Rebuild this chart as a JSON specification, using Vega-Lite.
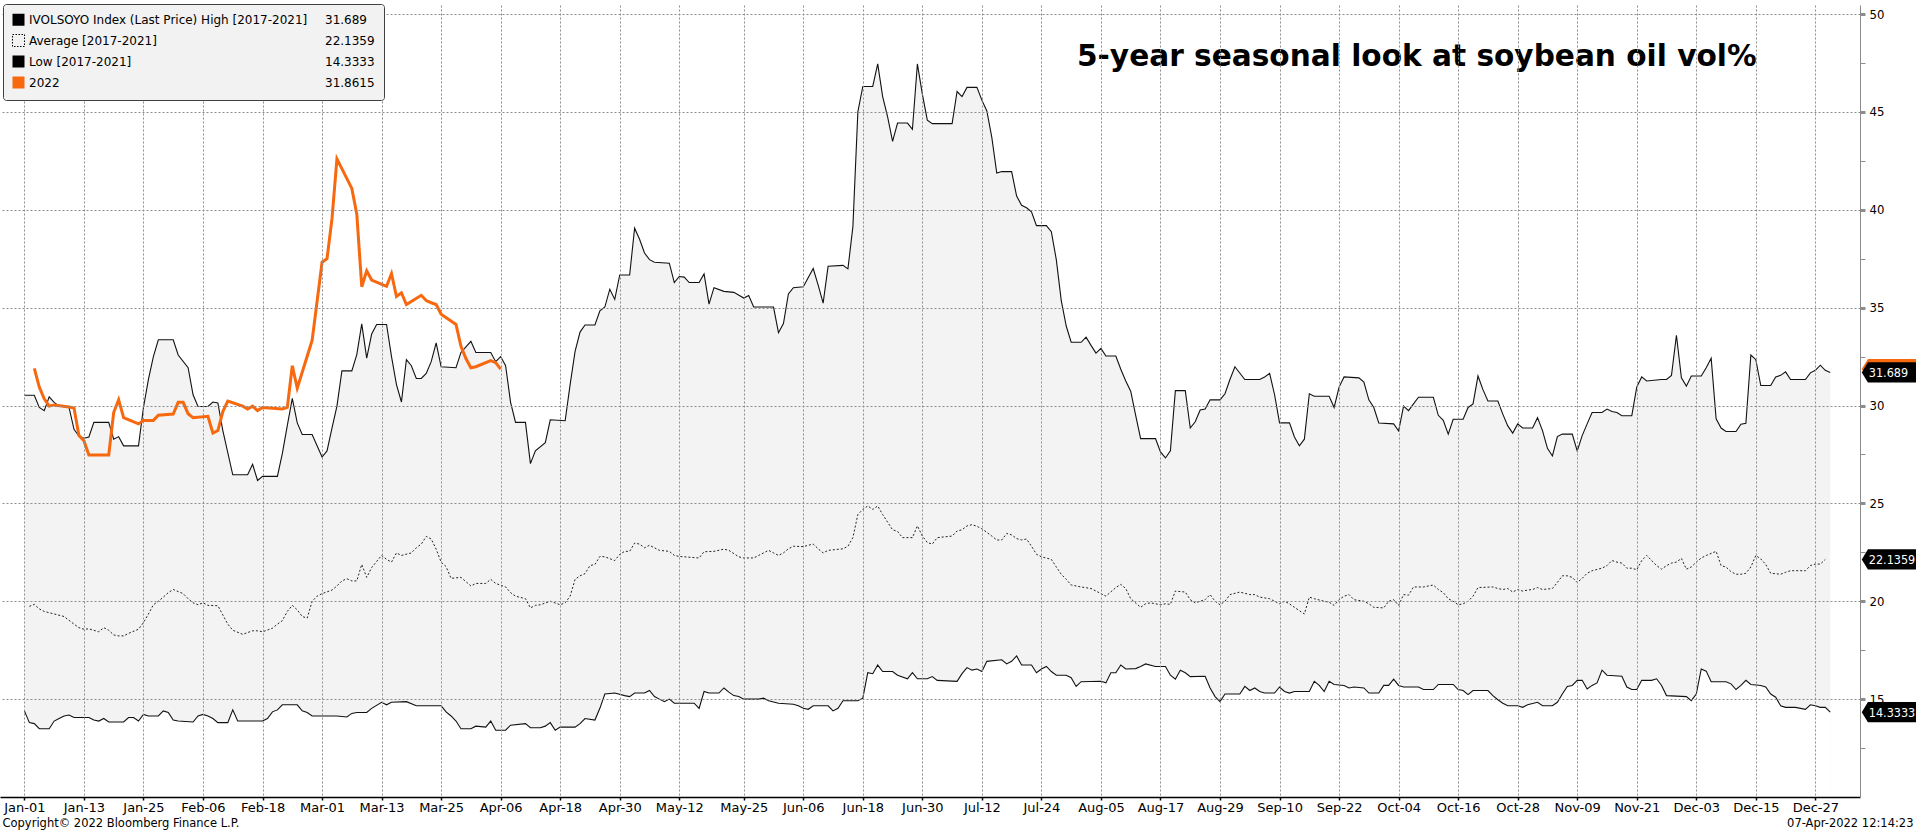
{
  "$schema": "https://vega.github.io/schema/vega-lite/v6.json",
  "width": 1860,
  "height": 792,
  "autosize": {"type": "none"},
  "padding": {"left": 0, "top": 5, "right": 56, "bottom": 36},
  "background": "#ffffff",
  "config": {"view": {"stroke": null}},
  "title": {"text": "5-year seasonal look at soybean oil vol%", "anchor": "start", "frame": "group", "orient": "top", "offset": 0, "dx": 1077, "dy": 92, "baseline": "alphabetic", "font": "DejaVu Sans", "fontSize": 29.6, "fontWeight": "bold", "color": "#000000"},
  "datasets": {
    "high": [
      {"d":"2020-01-01","v":30.52},{"d":"2020-01-03","v":30.52},{"d":"2020-01-04","v":29.9},{"d":"2020-01-05","v":29.74},{"d":"2020-01-06","v":30.44},{"d":"2020-01-07","v":30.16},{"d":"2020-01-08","v":29.97},{"d":"2020-01-10","v":29.9},{"d":"2020-01-11","v":28.78},{"d":"2020-01-12","v":28.44},{"d":"2020-01-13","v":28.33},{"d":"2020-01-14","v":28.39},{"d":"2020-01-15","v":29.14},{"d":"2020-01-18","v":29.14},{"d":"2020-01-19","v":28.28},{"d":"2020-01-20","v":28.41},{"d":"2020-01-21","v":27.94},{"d":"2020-01-24","v":27.94},{"d":"2020-01-25","v":29.9},{"d":"2020-01-26","v":31.33},{"d":"2020-01-27","v":32.5},{"d":"2020-01-28","v":33.36},{"d":"2020-01-31","v":33.36},
      {"d":"2020-02-01","v":32.58},{"d":"2020-02-03","v":31.93},{"d":"2020-02-04","v":30.55},{"d":"2020-02-05","v":29.95},{"d":"2020-02-07","v":29.95},{"d":"2020-02-08","v":30.18},{"d":"2020-02-09","v":30.13},{"d":"2020-02-10","v":28.72},{"d":"2020-02-12","v":26.46},{"d":"2020-02-15","v":26.46},{"d":"2020-02-16","v":27.0},{"d":"2020-02-17","v":26.17},{"d":"2020-02-18","v":26.38},{"d":"2020-02-21","v":26.38},{"d":"2020-02-22","v":27.55},{"d":"2020-02-23","v":28.98},{"d":"2020-02-24","v":30.36},{"d":"2020-02-25","v":29.11},{"d":"2020-02-26","v":28.52},{"d":"2020-02-28","v":28.52},{"d":"2020-02-29","v":27.94},
      {"d":"2020-03-01","v":27.37},{"d":"2020-03-02","v":27.68},{"d":"2020-03-03","v":28.85},{"d":"2020-03-04","v":29.97},{"d":"2020-03-05","v":31.77},{"d":"2020-03-07","v":31.77},{"d":"2020-03-08","v":32.6},{"d":"2020-03-09","v":34.17},{"d":"2020-03-10","v":32.42},{"d":"2020-03-11","v":33.65},{"d":"2020-03-12","v":34.14},{"d":"2020-03-14","v":34.14},{"d":"2020-03-15","v":32.5},{"d":"2020-03-16","v":31.07},{"d":"2020-03-17","v":30.18},{"d":"2020-03-18","v":32.34},{"d":"2020-03-19","v":32.03},{"d":"2020-03-20","v":31.38},{"d":"2020-03-21","v":31.38},{"d":"2020-03-22","v":31.64},{"d":"2020-03-23","v":32.24},{"d":"2020-03-24","v":33.2},{"d":"2020-03-25","v":31.98},{"d":"2020-03-28","v":31.93},{"d":"2020-03-29","v":32.71},{"d":"2020-03-31","v":33.28},
      {"d":"2020-04-01","v":32.71},{"d":"2020-04-04","v":32.71},{"d":"2020-04-05","v":32.24},{"d":"2020-04-06","v":32.5},{"d":"2020-04-07","v":32.03},{"d":"2020-04-08","v":30.16},{"d":"2020-04-09","v":29.14},{"d":"2020-04-11","v":29.14},{"d":"2020-04-12","v":27.03},{"d":"2020-04-13","v":27.68},{"d":"2020-04-15","v":28.1},{"d":"2020-04-16","v":29.27},{"d":"2020-04-19","v":29.22},{"d":"2020-04-20","v":31.07},{"d":"2020-04-21","v":32.76},{"d":"2020-04-22","v":33.75},{"d":"2020-04-23","v":34.11},{"d":"2020-04-25","v":34.11},{"d":"2020-04-26","v":34.84},{"d":"2020-04-27","v":35.03},{"d":"2020-04-28","v":35.94},{"d":"2020-04-29","v":35.42},{"d":"2020-04-30","v":36.67},
      {"d":"2020-05-02","v":36.67},{"d":"2020-05-03","v":39.06},{"d":"2020-05-04","v":38.49},{"d":"2020-05-05","v":37.79},{"d":"2020-05-06","v":37.45},{"d":"2020-05-07","v":37.32},{"d":"2020-05-10","v":37.27},{"d":"2020-05-11","v":36.28},{"d":"2020-05-12","v":36.59},{"d":"2020-05-13","v":36.56},{"d":"2020-05-14","v":36.28},{"d":"2020-05-16","v":36.28},{"d":"2020-05-17","v":36.72},{"d":"2020-05-18","v":35.18},{"d":"2020-05-19","v":36.02},{"d":"2020-05-21","v":35.83},{"d":"2020-05-23","v":35.78},{"d":"2020-05-25","v":35.49},{"d":"2020-05-26","v":35.62},{"d":"2020-05-27","v":35.03},{"d":"2020-05-31","v":35.03},
      {"d":"2020-06-01","v":33.72},{"d":"2020-06-02","v":34.19},{"d":"2020-06-03","v":35.7},{"d":"2020-06-04","v":36.02},{"d":"2020-06-06","v":36.07},{"d":"2020-06-08","v":37.0},{"d":"2020-06-09","v":36.15},{"d":"2020-06-10","v":35.23},{"d":"2020-06-11","v":37.11},{"d":"2020-06-14","v":37.16},{"d":"2020-06-15","v":36.98},{"d":"2020-06-16","v":39.14},{"d":"2020-06-17","v":45.0},{"d":"2020-06-18","v":46.3},{"d":"2020-06-20","v":46.3},{"d":"2020-06-21","v":47.45},{"d":"2020-06-22","v":45.78},{"d":"2020-06-23","v":44.74},{"d":"2020-06-24","v":43.49},{"d":"2020-06-25","v":44.43},{"d":"2020-06-27","v":44.43},{"d":"2020-06-28","v":44.11},{"d":"2020-06-29","v":47.45},{"d":"2020-06-30","v":45.91},
      {"d":"2020-07-01","v":44.58},{"d":"2020-07-02","v":44.4},{"d":"2020-07-06","v":44.4},{"d":"2020-07-07","v":46.04},{"d":"2020-07-08","v":45.78},{"d":"2020-07-09","v":46.25},{"d":"2020-07-11","v":46.25},{"d":"2020-07-12","v":45.6},{"d":"2020-07-13","v":45.05},{"d":"2020-07-14","v":43.7},{"d":"2020-07-15","v":41.88},{"d":"2020-07-16","v":41.95},{"d":"2020-07-18","v":41.95},{"d":"2020-07-19","v":40.7},{"d":"2020-07-20","v":40.23},{"d":"2020-07-21","v":40.1},{"d":"2020-07-22","v":39.9},{"d":"2020-07-23","v":39.19},{"d":"2020-07-25","v":39.19},{"d":"2020-07-26","v":38.88},{"d":"2020-07-27","v":37.45},{"d":"2020-07-28","v":35.36},{"d":"2020-07-29","v":34.06},{"d":"2020-07-30","v":33.23},
      {"d":"2020-08-01","v":33.23},{"d":"2020-08-02","v":33.49},{"d":"2020-08-03","v":33.07},{"d":"2020-08-04","v":32.68},{"d":"2020-08-05","v":32.92},{"d":"2020-08-06","v":32.53},{"d":"2020-08-08","v":32.53},{"d":"2020-08-09","v":31.85},{"d":"2020-08-10","v":31.25},{"d":"2020-08-11","v":30.73},{"d":"2020-08-12","v":29.5},{"d":"2020-08-13","v":28.31},{"d":"2020-08-16","v":28.31},{"d":"2020-08-17","v":27.63},{"d":"2020-08-18","v":27.32},{"d":"2020-08-19","v":27.68},{"d":"2020-08-20","v":30.76},{"d":"2020-08-22","v":30.76},{"d":"2020-08-23","v":28.85},{"d":"2020-08-24","v":29.17},{"d":"2020-08-25","v":29.77},{"d":"2020-08-26","v":29.82},{"d":"2020-08-27","v":30.29},{"d":"2020-08-29","v":30.29},{"d":"2020-08-30","v":30.6},{"d":"2020-08-31","v":31.33},
      {"d":"2020-09-01","v":31.98},{"d":"2020-09-03","v":31.33},{"d":"2020-09-06","v":31.33},{"d":"2020-09-07","v":31.46},{"d":"2020-09-08","v":31.64},{"d":"2020-09-09","v":30.55},{"d":"2020-09-10","v":29.11},{"d":"2020-09-12","v":29.11},{"d":"2020-09-13","v":28.39},{"d":"2020-09-14","v":27.94},{"d":"2020-09-15","v":28.28},{"d":"2020-09-16","v":30.6},{"d":"2020-09-17","v":30.47},{"d":"2020-09-20","v":30.47},{"d":"2020-09-21","v":29.9},{"d":"2020-09-22","v":30.94},{"d":"2020-09-23","v":31.46},{"d":"2020-09-26","v":31.41},{"d":"2020-09-27","v":31.2},{"d":"2020-09-28","v":30.29},{"d":"2020-09-29","v":29.9},{"d":"2020-09-30","v":29.11},
      {"d":"2020-10-03","v":29.06},{"d":"2020-10-04","v":28.7},{"d":"2020-10-05","v":29.97},{"d":"2020-10-06","v":29.74},{"d":"2020-10-07","v":30.08},{"d":"2020-10-08","v":30.42},{"d":"2020-10-11","v":30.42},{"d":"2020-10-12","v":29.5},{"d":"2020-10-13","v":29.24},{"d":"2020-10-14","v":28.54},{"d":"2020-10-15","v":29.3},{"d":"2020-10-17","v":29.3},{"d":"2020-10-18","v":29.9},{"d":"2020-10-19","v":30.08},{"d":"2020-10-20","v":31.51},{"d":"2020-10-21","v":30.81},{"d":"2020-10-22","v":30.23},{"d":"2020-10-24","v":30.23},{"d":"2020-10-25","v":29.56},{"d":"2020-10-26","v":28.96},{"d":"2020-10-27","v":28.59},{"d":"2020-10-28","v":29.06},{"d":"2020-10-29","v":28.85},{"d":"2020-10-31","v":28.85},
      {"d":"2020-11-01","v":29.38},{"d":"2020-11-02","v":28.72},{"d":"2020-11-03","v":27.81},{"d":"2020-11-04","v":27.42},{"d":"2020-11-05","v":28.41},{"d":"2020-11-06","v":28.54},{"d":"2020-11-08","v":28.54},{"d":"2020-11-09","v":27.68},{"d":"2020-11-10","v":28.46},{"d":"2020-11-11","v":29.06},{"d":"2020-11-12","v":29.64},{"d":"2020-11-14","v":29.64},{"d":"2020-11-15","v":29.82},{"d":"2020-11-16","v":29.69},{"d":"2020-11-17","v":29.64},{"d":"2020-11-18","v":29.48},{"d":"2020-11-20","v":29.48},{"d":"2020-11-21","v":30.94},{"d":"2020-11-22","v":31.46},{"d":"2020-11-23","v":31.25},{"d":"2020-11-26","v":31.33},{"d":"2020-11-27","v":31.33},{"d":"2020-11-28","v":31.54},{"d":"2020-11-29","v":33.59},{"d":"2020-11-30","v":31.41},
      {"d":"2020-12-01","v":30.99},{"d":"2020-12-02","v":31.51},{"d":"2020-12-04","v":31.51},{"d":"2020-12-05","v":31.93},{"d":"2020-12-06","v":32.42},{"d":"2020-12-07","v":29.32},{"d":"2020-12-08","v":28.85},{"d":"2020-12-09","v":28.67},{"d":"2020-12-11","v":28.67},{"d":"2020-12-12","v":29.04},{"d":"2020-12-13","v":29.09},{"d":"2020-12-14","v":32.58},{"d":"2020-12-15","v":32.34},{"d":"2020-12-16","v":31.02},{"d":"2020-12-18","v":31.02},{"d":"2020-12-19","v":31.46},{"d":"2020-12-20","v":31.54},{"d":"2020-12-21","v":31.72},{"d":"2020-12-22","v":31.33},{"d":"2020-12-25","v":31.33},{"d":"2020-12-26","v":31.67},{"d":"2020-12-27","v":31.8},{"d":"2020-12-28","v":32.06},{"d":"2020-12-29","v":31.8},{"d":"2020-12-30","v":31.689}
    ],
    "avg": [
      {"d":"2020-01-02","v":19.74},{"d":"2020-01-03","v":19.84},{"d":"2020-01-04","v":19.61},{"d":"2020-01-05","v":19.48},{"d":"2020-01-07","v":19.35},{"d":"2020-01-09","v":19.22},{"d":"2020-01-11","v":18.83},{"d":"2020-01-12","v":18.65},{"d":"2020-01-13","v":18.57},{"d":"2020-01-14","v":18.59},{"d":"2020-01-16","v":18.44},{"d":"2020-01-17","v":18.65},{"d":"2020-01-18","v":18.52},{"d":"2020-01-19","v":18.28},{"d":"2020-01-20","v":18.23},{"d":"2020-01-21","v":18.23},{"d":"2020-01-22","v":18.36},{"d":"2020-01-24","v":18.57},{"d":"2020-01-25","v":18.91},{"d":"2020-01-26","v":19.35},{"d":"2020-01-27","v":19.82},{"d":"2020-01-28","v":20.0},{"d":"2020-01-29","v":20.21},{"d":"2020-01-30","v":20.44},{"d":"2020-01-31","v":20.6},
      {"d":"2020-02-02","v":20.39},{"d":"2020-02-03","v":20.13},{"d":"2020-02-04","v":19.92},{"d":"2020-02-05","v":19.82},{"d":"2020-02-06","v":19.92},{"d":"2020-02-07","v":19.79},{"d":"2020-02-09","v":19.77},{"d":"2020-02-10","v":19.3},{"d":"2020-02-11","v":18.83},{"d":"2020-02-12","v":18.52},{"d":"2020-02-14","v":18.31},{"d":"2020-02-16","v":18.49},{"d":"2020-02-17","v":18.49},{"d":"2020-02-18","v":18.44},{"d":"2020-02-20","v":18.62},{"d":"2020-02-21","v":18.83},{"d":"2020-02-22","v":19.01},{"d":"2020-02-23","v":19.48},{"d":"2020-02-24","v":19.79},{"d":"2020-02-25","v":19.56},{"d":"2020-02-26","v":19.22},{"d":"2020-02-27","v":19.14},{"d":"2020-02-28","v":20.0},{"d":"2020-02-29","v":20.26},
      {"d":"2020-03-01","v":20.39},{"d":"2020-03-03","v":20.57},{"d":"2020-03-04","v":20.78},{"d":"2020-03-05","v":21.04},{"d":"2020-03-06","v":21.15},{"d":"2020-03-07","v":21.04},{"d":"2020-03-08","v":21.04},{"d":"2020-03-09","v":21.88},{"d":"2020-03-10","v":21.22},{"d":"2020-03-11","v":21.72},{"d":"2020-03-13","v":22.34},{"d":"2020-03-14","v":22.14},{"d":"2020-03-15","v":22.0},{"d":"2020-03-16","v":22.47},{"d":"2020-03-17","v":22.34},{"d":"2020-03-19","v":22.47},{"d":"2020-03-20","v":22.73},{"d":"2020-03-21","v":22.92},{"d":"2020-03-22","v":23.31},{"d":"2020-03-23","v":23.18},{"d":"2020-03-24","v":22.66},{"d":"2020-03-25","v":22.0},{"d":"2020-03-26","v":21.77},{"d":"2020-03-27","v":21.17},{"d":"2020-03-29","v":21.22},{"d":"2020-03-31","v":20.78},
      {"d":"2020-04-01","v":20.91},{"d":"2020-04-03","v":20.91},{"d":"2020-04-04","v":21.12},{"d":"2020-04-05","v":20.91},{"d":"2020-04-07","v":20.73},{"d":"2020-04-08","v":20.44},{"d":"2020-04-09","v":20.26},{"d":"2020-04-11","v":20.13},{"d":"2020-04-12","v":19.66},{"d":"2020-04-13","v":19.79},{"d":"2020-04-14","v":19.82},{"d":"2020-04-16","v":20.0},{"d":"2020-04-18","v":19.82},{"d":"2020-04-19","v":19.92},{"d":"2020-04-20","v":20.26},{"d":"2020-04-21","v":21.12},{"d":"2020-04-22","v":21.3},{"d":"2020-04-23","v":21.41},{"d":"2020-04-24","v":21.82},{"d":"2020-04-25","v":21.88},{"d":"2020-04-26","v":22.29},{"d":"2020-04-27","v":22.27},{"d":"2020-04-29","v":22.08},{"d":"2020-04-30","v":22.4},
      {"d":"2020-05-01","v":22.55},{"d":"2020-05-02","v":22.55},{"d":"2020-05-03","v":22.97},{"d":"2020-05-04","v":22.92},{"d":"2020-05-05","v":22.73},{"d":"2020-05-06","v":22.86},{"d":"2020-05-07","v":22.73},{"d":"2020-05-08","v":22.6},{"d":"2020-05-10","v":22.55},{"d":"2020-05-11","v":22.34},{"d":"2020-05-12","v":22.29},{"d":"2020-05-16","v":22.21},{"d":"2020-05-17","v":22.53},{"d":"2020-05-19","v":22.55},{"d":"2020-05-21","v":22.66},{"d":"2020-05-22","v":22.6},{"d":"2020-05-24","v":22.27},{"d":"2020-05-25","v":22.21},{"d":"2020-05-27","v":22.21},{"d":"2020-05-28","v":22.34},{"d":"2020-05-30","v":22.6},{"d":"2020-05-31","v":22.47},
      {"d":"2020-06-01","v":22.34},{"d":"2020-06-02","v":22.47},{"d":"2020-06-03","v":22.68},{"d":"2020-06-04","v":22.81},{"d":"2020-06-06","v":22.79},{"d":"2020-06-07","v":22.86},{"d":"2020-06-08","v":22.92},{"d":"2020-06-09","v":22.68},{"d":"2020-06-10","v":22.47},{"d":"2020-06-11","v":22.6},{"d":"2020-06-14","v":22.68},{"d":"2020-06-15","v":22.81},{"d":"2020-06-16","v":23.25},{"d":"2020-06-17","v":24.43},{"d":"2020-06-18","v":24.69},{"d":"2020-06-19","v":24.87},{"d":"2020-06-20","v":24.69},{"d":"2020-06-21","v":24.87},{"d":"2020-06-22","v":24.43},{"d":"2020-06-23","v":24.04},{"d":"2020-06-24","v":23.65},{"d":"2020-06-25","v":23.57},{"d":"2020-06-26","v":23.25},{"d":"2020-06-28","v":23.25},{"d":"2020-06-29","v":23.85},{"d":"2020-06-30","v":23.33},
      {"d":"2020-07-01","v":23.0},{"d":"2020-07-02","v":22.92},{"d":"2020-07-03","v":23.25},{"d":"2020-07-06","v":23.33},{"d":"2020-07-07","v":23.59},{"d":"2020-07-08","v":23.65},{"d":"2020-07-09","v":23.85},{"d":"2020-07-10","v":23.91},{"d":"2020-07-11","v":23.83},{"d":"2020-07-12","v":23.7},{"d":"2020-07-13","v":23.52},{"d":"2020-07-14","v":23.33},{"d":"2020-07-15","v":23.13},{"d":"2020-07-16","v":23.13},{"d":"2020-07-17","v":23.46},{"d":"2020-07-18","v":23.39},{"d":"2020-07-19","v":23.2},{"d":"2020-07-20","v":23.13},{"d":"2020-07-21","v":23.18},{"d":"2020-07-22","v":22.81},{"d":"2020-07-23","v":22.4},{"d":"2020-07-24","v":22.27},{"d":"2020-07-26","v":22.14},{"d":"2020-07-27","v":21.75},{"d":"2020-07-28","v":21.38},{"d":"2020-07-29","v":21.12},{"d":"2020-07-30","v":20.83},
      {"d":"2020-08-01","v":20.73},{"d":"2020-08-03","v":20.65},{"d":"2020-08-05","v":20.39},{"d":"2020-08-06","v":20.26},{"d":"2020-08-08","v":20.7},{"d":"2020-08-09","v":20.86},{"d":"2020-08-10","v":20.65},{"d":"2020-08-11","v":20.13},{"d":"2020-08-13","v":19.69},{"d":"2020-08-14","v":19.87},{"d":"2020-08-15","v":19.92},{"d":"2020-08-17","v":19.82},{"d":"2020-08-18","v":19.87},{"d":"2020-08-19","v":19.84},{"d":"2020-08-20","v":20.52},{"d":"2020-08-22","v":20.47},{"d":"2020-08-23","v":20.08},{"d":"2020-08-24","v":19.92},{"d":"2020-08-26","v":20.08},{"d":"2020-08-27","v":20.34},{"d":"2020-08-28","v":20.0},{"d":"2020-08-29","v":19.82},{"d":"2020-08-30","v":20.0},{"d":"2020-08-31","v":20.34},
      {"d":"2020-09-02","v":20.47},{"d":"2020-09-04","v":20.34},{"d":"2020-09-05","v":20.34},{"d":"2020-09-06","v":20.21},{"d":"2020-09-08","v":20.13},{"d":"2020-09-10","v":19.87},{"d":"2020-09-11","v":20.0},{"d":"2020-09-12","v":19.87},{"d":"2020-09-13","v":19.69},{"d":"2020-09-15","v":19.35},{"d":"2020-09-16","v":20.21},{"d":"2020-09-17","v":20.13},{"d":"2020-09-19","v":20.0},{"d":"2020-09-20","v":19.95},{"d":"2020-09-21","v":19.79},{"d":"2020-09-22","v":20.08},{"d":"2020-09-23","v":20.26},{"d":"2020-09-24","v":20.34},{"d":"2020-09-25","v":20.08},{"d":"2020-09-27","v":20.0},{"d":"2020-09-28","v":19.87},{"d":"2020-09-29","v":19.69},
      {"d":"2020-10-01","v":19.66},{"d":"2020-10-02","v":20.0},{"d":"2020-10-03","v":20.08},{"d":"2020-10-04","v":19.79},{"d":"2020-10-05","v":20.34},{"d":"2020-10-06","v":20.31},{"d":"2020-10-07","v":20.73},{"d":"2020-10-09","v":20.73},{"d":"2020-10-11","v":20.83},{"d":"2020-10-12","v":20.6},{"d":"2020-10-13","v":20.44},{"d":"2020-10-14","v":20.13},{"d":"2020-10-15","v":20.0},{"d":"2020-10-16","v":19.82},{"d":"2020-10-17","v":19.87},{"d":"2020-10-18","v":20.0},{"d":"2020-10-19","v":20.26},{"d":"2020-10-20","v":20.7},{"d":"2020-10-23","v":20.73},{"d":"2020-10-24","v":20.65},{"d":"2020-10-25","v":20.6},{"d":"2020-10-26","v":20.65},{"d":"2020-10-27","v":20.47},{"d":"2020-10-28","v":20.6},{"d":"2020-10-29","v":20.52},{"d":"2020-10-30","v":20.57},{"d":"2020-10-31","v":20.6},
      {"d":"2020-11-01","v":20.7},{"d":"2020-11-02","v":20.6},{"d":"2020-11-04","v":20.65},{"d":"2020-11-05","v":20.96},{"d":"2020-11-06","v":21.3},{"d":"2020-11-07","v":21.3},{"d":"2020-11-08","v":21.22},{"d":"2020-11-09","v":20.96},{"d":"2020-11-10","v":21.17},{"d":"2020-11-11","v":21.43},{"d":"2020-11-12","v":21.56},{"d":"2020-11-14","v":21.69},{"d":"2020-11-15","v":21.82},{"d":"2020-11-16","v":22.08},{"d":"2020-11-17","v":22.0},{"d":"2020-11-18","v":21.95},{"d":"2020-11-19","v":21.69},{"d":"2020-11-20","v":21.69},{"d":"2020-11-21","v":21.61},{"d":"2020-11-22","v":22.08},{"d":"2020-11-23","v":22.34},{"d":"2020-11-24","v":22.08},{"d":"2020-11-25","v":21.82},{"d":"2020-11-26","v":21.64},{"d":"2020-11-27","v":21.82},{"d":"2020-11-28","v":21.95},{"d":"2020-11-29","v":22.0},{"d":"2020-11-30","v":22.19},
      {"d":"2020-12-01","v":21.64},{"d":"2020-12-02","v":21.75},{"d":"2020-12-03","v":22.0},{"d":"2020-12-04","v":22.21},{"d":"2020-12-05","v":22.34},{"d":"2020-12-07","v":22.55},{"d":"2020-12-08","v":21.82},{"d":"2020-12-09","v":21.75},{"d":"2020-12-10","v":21.51},{"d":"2020-12-11","v":21.38},{"d":"2020-12-12","v":21.38},{"d":"2020-12-13","v":21.43},{"d":"2020-12-14","v":21.75},{"d":"2020-12-15","v":22.34},{"d":"2020-12-16","v":22.16},{"d":"2020-12-17","v":21.88},{"d":"2020-12-18","v":21.43},{"d":"2020-12-20","v":21.38},{"d":"2020-12-21","v":21.48},{"d":"2020-12-22","v":21.56},{"d":"2020-12-25","v":21.56},{"d":"2020-12-26","v":21.82},{"d":"2020-12-27","v":21.9},{"d":"2020-12-28","v":21.9},{"d":"2020-12-29","v":22.1359}
    ],
    "low": [
      {"d":"2020-01-01","v":14.4},{"d":"2020-01-02","v":13.8},{"d":"2020-01-03","v":13.75},{"d":"2020-01-04","v":13.49},{"d":"2020-01-06","v":13.49},{"d":"2020-01-07","v":13.88},{"d":"2020-01-08","v":14.01},{"d":"2020-01-09","v":14.14},{"d":"2020-01-10","v":14.19},{"d":"2020-01-11","v":14.06},{"d":"2020-01-14","v":14.06},{"d":"2020-01-15","v":13.93},{"d":"2020-01-16","v":13.88},{"d":"2020-01-17","v":14.01},{"d":"2020-01-18","v":13.83},{"d":"2020-01-21","v":13.83},{"d":"2020-01-22","v":14.06},{"d":"2020-01-23","v":14.06},{"d":"2020-01-24","v":13.88},{"d":"2020-01-25","v":14.22},{"d":"2020-01-26","v":14.14},{"d":"2020-01-28","v":14.14},{"d":"2020-01-29","v":14.4},{"d":"2020-01-30","v":14.32},{"d":"2020-01-31","v":13.93},
      {"d":"2020-02-01","v":13.88},{"d":"2020-02-04","v":13.83},{"d":"2020-02-05","v":14.14},{"d":"2020-02-06","v":14.22},{"d":"2020-02-07","v":14.14},{"d":"2020-02-08","v":14.01},{"d":"2020-02-09","v":13.8},{"d":"2020-02-11","v":13.8},{"d":"2020-02-12","v":14.45},{"d":"2020-02-13","v":13.88},{"d":"2020-02-14","v":13.88},{"d":"2020-02-18","v":13.88},{"d":"2020-02-19","v":14.01},{"d":"2020-02-20","v":14.35},{"d":"2020-02-21","v":14.45},{"d":"2020-02-22","v":14.71},{"d":"2020-02-25","v":14.71},{"d":"2020-02-26","v":14.4},{"d":"2020-02-27","v":14.32},{"d":"2020-02-28","v":14.14},
      {"d":"2020-03-04","v":14.14},{"d":"2020-03-06","v":14.09},{"d":"2020-03-07","v":14.27},{"d":"2020-03-08","v":14.32},{"d":"2020-03-10","v":14.32},{"d":"2020-03-11","v":14.53},{"d":"2020-03-13","v":14.84},{"d":"2020-03-14","v":14.71},{"d":"2020-03-15","v":14.84},{"d":"2020-03-18","v":14.87},{"d":"2020-03-20","v":14.66},{"d":"2020-03-25","v":14.66},{"d":"2020-03-26","v":14.35},{"d":"2020-03-27","v":14.14},{"d":"2020-03-28","v":13.88},{"d":"2020-03-29","v":13.49},{"d":"2020-03-31","v":13.49},
      {"d":"2020-04-01","v":13.62},{"d":"2020-04-03","v":13.57},{"d":"2020-04-04","v":13.88},{"d":"2020-04-05","v":13.41},{"d":"2020-04-07","v":13.41},{"d":"2020-04-08","v":13.67},{"d":"2020-04-11","v":13.75},{"d":"2020-04-12","v":13.54},{"d":"2020-04-14","v":13.54},{"d":"2020-04-15","v":13.62},{"d":"2020-04-16","v":13.8},{"d":"2020-04-17","v":13.41},{"d":"2020-04-18","v":13.57},{"d":"2020-04-21","v":13.57},{"d":"2020-04-22","v":13.75},{"d":"2020-04-23","v":14.01},{"d":"2020-04-25","v":13.93},{"d":"2020-04-26","v":14.53},{"d":"2020-04-27","v":15.26},{"d":"2020-04-29","v":15.31},
      {"d":"2020-05-01","v":15.18},{"d":"2020-05-02","v":15.13},{"d":"2020-05-03","v":15.31},{"d":"2020-05-05","v":15.31},{"d":"2020-05-06","v":15.44},{"d":"2020-05-07","v":15.13},{"d":"2020-05-08","v":15.0},{"d":"2020-05-09","v":14.87},{"d":"2020-05-10","v":15.0},{"d":"2020-05-11","v":14.79},{"d":"2020-05-15","v":14.79},{"d":"2020-05-16","v":14.53},{"d":"2020-05-17","v":15.39},{"d":"2020-05-18","v":15.31},{"d":"2020-05-20","v":15.31},{"d":"2020-05-21","v":15.57},{"d":"2020-05-22","v":15.36},{"d":"2020-05-23","v":15.18},{"d":"2020-05-24","v":15.13},{"d":"2020-05-25","v":15.0},{"d":"2020-05-28","v":15.0},{"d":"2020-05-29","v":15.05},{"d":"2020-05-30","v":14.92},
      {"d":"2020-06-01","v":14.79},{"d":"2020-06-04","v":14.74},{"d":"2020-06-05","v":14.66},{"d":"2020-06-06","v":14.53},{"d":"2020-06-07","v":14.48},{"d":"2020-06-08","v":14.66},{"d":"2020-06-11","v":14.66},{"d":"2020-06-12","v":14.4},{"d":"2020-06-13","v":14.53},{"d":"2020-06-14","v":14.92},{"d":"2020-06-17","v":14.92},{"d":"2020-06-18","v":15.05},{"d":"2020-06-19","v":16.35},{"d":"2020-06-20","v":16.3},{"d":"2020-06-21","v":16.74},{"d":"2020-06-22","v":16.41},{"d":"2020-06-24","v":16.41},{"d":"2020-06-25","v":16.22},{"d":"2020-06-27","v":16.04},{"d":"2020-06-28","v":16.35},{"d":"2020-06-29","v":16.04},
      {"d":"2020-07-01","v":16.04},{"d":"2020-07-02","v":16.15},{"d":"2020-07-03","v":15.96},{"d":"2020-07-07","v":15.91},{"d":"2020-07-08","v":16.3},{"d":"2020-07-09","v":16.61},{"d":"2020-07-10","v":16.48},{"d":"2020-07-11","v":16.54},{"d":"2020-07-12","v":16.41},{"d":"2020-07-13","v":16.93},{"d":"2020-07-16","v":17.01},{"d":"2020-07-17","v":16.8},{"d":"2020-07-18","v":16.93},{"d":"2020-07-19","v":17.21},{"d":"2020-07-20","v":16.74},{"d":"2020-07-22","v":16.74},{"d":"2020-07-23","v":16.35},{"d":"2020-07-24","v":16.54},{"d":"2020-07-25","v":16.67},{"d":"2020-07-26","v":16.41},{"d":"2020-07-27","v":16.22},{"d":"2020-07-29","v":16.22},{"d":"2020-07-30","v":16.09},{"d":"2020-07-31","v":15.65},
      {"d":"2020-08-01","v":15.89},{"d":"2020-08-05","v":15.91},{"d":"2020-08-06","v":15.83},{"d":"2020-08-07","v":16.35},{"d":"2020-08-08","v":16.35},{"d":"2020-08-09","v":16.74},{"d":"2020-08-10","v":16.54},{"d":"2020-08-12","v":16.56},{"d":"2020-08-13","v":16.67},{"d":"2020-08-14","v":16.8},{"d":"2020-08-16","v":16.67},{"d":"2020-08-18","v":16.67},{"d":"2020-08-19","v":16.22},{"d":"2020-08-20","v":16.02},{"d":"2020-08-21","v":16.48},{"d":"2020-08-22","v":16.35},{"d":"2020-08-23","v":16.15},{"d":"2020-08-26","v":16.17},{"d":"2020-08-27","v":15.57},{"d":"2020-08-28","v":15.13},{"d":"2020-08-29","v":14.87},{"d":"2020-08-30","v":15.26},
      {"d":"2020-09-02","v":15.26},{"d":"2020-09-03","v":15.65},{"d":"2020-09-04","v":15.44},{"d":"2020-09-05","v":15.57},{"d":"2020-09-06","v":15.39},{"d":"2020-09-07","v":15.31},{"d":"2020-09-09","v":15.31},{"d":"2020-09-10","v":15.62},{"d":"2020-09-11","v":15.39},{"d":"2020-09-12","v":15.31},{"d":"2020-09-13","v":15.39},{"d":"2020-09-16","v":15.39},{"d":"2020-09-17","v":15.91},{"d":"2020-09-18","v":15.7},{"d":"2020-09-19","v":15.39},{"d":"2020-09-20","v":15.91},{"d":"2020-09-21","v":15.75},{"d":"2020-09-23","v":15.7},{"d":"2020-09-24","v":15.57},{"d":"2020-09-25","v":15.62},{"d":"2020-09-27","v":15.57},{"d":"2020-09-28","v":15.31},{"d":"2020-09-30","v":15.31},
      {"d":"2020-10-01","v":15.7},{"d":"2020-10-02","v":15.7},{"d":"2020-10-03","v":16.02},{"d":"2020-10-04","v":15.7},{"d":"2020-10-05","v":15.62},{"d":"2020-10-08","v":15.62},{"d":"2020-10-09","v":15.49},{"d":"2020-10-11","v":15.49},{"d":"2020-10-12","v":15.75},{"d":"2020-10-15","v":15.75},{"d":"2020-10-16","v":15.49},{"d":"2020-10-17","v":15.44},{"d":"2020-10-18","v":15.23},{"d":"2020-10-19","v":15.44},{"d":"2020-10-22","v":15.44},{"d":"2020-10-23","v":15.18},{"d":"2020-10-24","v":14.97},{"d":"2020-10-25","v":14.79},{"d":"2020-10-26","v":14.66},{"d":"2020-10-28","v":14.66},{"d":"2020-10-29","v":14.58},{"d":"2020-10-30","v":14.71},
      {"d":"2020-11-01","v":14.84},{"d":"2020-11-02","v":14.66},{"d":"2020-11-04","v":14.66},{"d":"2020-11-05","v":14.84},{"d":"2020-11-06","v":15.26},{"d":"2020-11-07","v":15.65},{"d":"2020-11-08","v":15.7},{"d":"2020-11-09","v":15.96},{"d":"2020-11-10","v":15.96},{"d":"2020-11-11","v":15.52},{"d":"2020-11-12","v":15.7},{"d":"2020-11-13","v":15.83},{"d":"2020-11-14","v":16.48},{"d":"2020-11-15","v":16.22},{"d":"2020-11-18","v":16.17},{"d":"2020-11-19","v":15.62},{"d":"2020-11-20","v":15.49},{"d":"2020-11-21","v":15.49},{"d":"2020-11-22","v":15.96},{"d":"2020-11-24","v":15.96},{"d":"2020-11-25","v":16.04},{"d":"2020-11-26","v":15.7},{"d":"2020-11-27","v":15.18},
      {"d":"2020-12-01","v":15.13},{"d":"2020-12-02","v":14.92},{"d":"2020-12-03","v":15.26},{"d":"2020-12-04","v":16.54},{"d":"2020-12-05","v":16.43},{"d":"2020-12-06","v":15.89},{"d":"2020-12-09","v":15.89},{"d":"2020-12-10","v":15.78},{"d":"2020-12-11","v":15.49},{"d":"2020-12-12","v":15.7},{"d":"2020-12-13","v":15.96},{"d":"2020-12-14","v":15.75},{"d":"2020-12-16","v":15.7},{"d":"2020-12-17","v":15.62},{"d":"2020-12-18","v":15.26},{"d":"2020-12-19","v":15.1},{"d":"2020-12-20","v":14.66},{"d":"2020-12-21","v":14.58},{"d":"2020-12-23","v":14.58},{"d":"2020-12-25","v":14.48},{"d":"2020-12-26","v":14.71},{"d":"2020-12-27","v":14.66},{"d":"2020-12-28","v":14.58},{"d":"2020-12-29","v":14.58},{"d":"2020-12-30","v":14.3333}
    ],
    "y2022": [
      {"d":"2022-01-03","v":31.9},{"d":"2022-01-04","v":30.94},{"d":"2022-01-05","v":30.34},{"d":"2022-01-06","v":29.97},{"d":"2022-01-07","v":30.03},{"d":"2022-01-10","v":29.92},{"d":"2022-01-11","v":29.87},{"d":"2022-01-12","v":28.46},{"d":"2022-01-13","v":28.2},{"d":"2022-01-14","v":27.47},{"d":"2022-01-18","v":27.47},{"d":"2022-01-19","v":29.64},{"d":"2022-01-20","v":30.29},{"d":"2022-01-21","v":29.38},{"d":"2022-01-24","v":29.06},{"d":"2022-01-25","v":29.24},{"d":"2022-01-26","v":29.24},{"d":"2022-01-27","v":29.24},{"d":"2022-01-28","v":29.5},{"d":"2022-01-31","v":29.56},
      {"d":"2022-02-01","v":30.16},{"d":"2022-02-02","v":30.16},{"d":"2022-02-03","v":29.58},{"d":"2022-02-04","v":29.38},{"d":"2022-02-07","v":29.45},{"d":"2022-02-08","v":28.59},{"d":"2022-02-09","v":28.72},{"d":"2022-02-10","v":29.69},{"d":"2022-02-11","v":30.23},{"d":"2022-02-14","v":29.97},{"d":"2022-02-15","v":29.82},{"d":"2022-02-16","v":29.97},{"d":"2022-02-17","v":29.74},{"d":"2022-02-18","v":29.9},{"d":"2022-02-22","v":29.82},{"d":"2022-02-23","v":29.9},{"d":"2022-02-24","v":32.03},{"d":"2022-02-25","v":30.89},{"d":"2022-02-28","v":33.33},
      {"d":"2022-03-01","v":37.32},{"d":"2022-03-02","v":37.5},{"d":"2022-03-03","v":39.53},{"d":"2022-03-04","v":42.6},{"d":"2022-03-07","v":41.09},{"d":"2022-03-08","v":39.79},{"d":"2022-03-09","v":36.07},{"d":"2022-03-10","v":36.88},{"d":"2022-03-11","v":36.41},{"d":"2022-03-14","v":36.09},{"d":"2022-03-15","v":36.74},{"d":"2022-03-16","v":35.57},{"d":"2022-03-17","v":35.76},{"d":"2022-03-18","v":35.16},{"d":"2022-03-21","v":35.63},{"d":"2022-03-22","v":35.36},{"d":"2022-03-23","v":35.25},{"d":"2022-03-24","v":35.16},{"d":"2022-03-25","v":34.66},{"d":"2022-03-28","v":34.14},{"d":"2022-03-29","v":33.02},{"d":"2022-03-30","v":32.4},{"d":"2022-03-31","v":31.93},
      {"d":"2022-04-01","v":31.98},{"d":"2022-04-04","v":32.29},{"d":"2022-04-05","v":32.19},{"d":"2022-04-06","v":31.8615}
    ],
    "legend": [
      {"k":"IVOLSOYO Index (Last Price) High [2017-2021]"},{"k":"31.689"},{"k":"Average  [2017-2021]"},{"k":"22.1359"},{"k":"Low  [2017-2021]"},{"k":"14.3333"},{"k":"2022"},{"k":"31.8615"}
    ],
    "tags": [
      {"s":"2022","v":31.8615,"t":"31.8615"},{"s":"High","v":31.689,"t":"31.689"},{"s":"Average","v":22.1359,"t":"22.1359"},{"s":"Low","v":14.3333,"t":"14.3333"}
    ]
  },
  "layer": [
    {
      "data": {"name": "high"},
      "mark": {"type": "area", "color": "#f3f3f3", "opacity": 1},
      "encoding": {
        "x": {"field": "d", "type": "temporal", "timeUnit": "utcmonthdate",
          "scale": {"type": "utc", "nice": false, "domain": [{"year": 2011, "month": 12, "date": 27, "hours": 2, "utc": true}, {"year": 2013, "month": 1, "date": 5, "utc": true}]},
          "axis": {
            "values": [
              {"year":2012,"month":1,"date":1,"utc":true},{"year":2012,"month":1,"date":13,"utc":true},{"year":2012,"month":1,"date":25,"utc":true},{"year":2012,"month":2,"date":6,"utc":true},{"year":2012,"month":2,"date":18,"utc":true},{"year":2012,"month":3,"date":1,"utc":true},{"year":2012,"month":3,"date":13,"utc":true},{"year":2012,"month":3,"date":25,"utc":true},{"year":2012,"month":4,"date":6,"utc":true},{"year":2012,"month":4,"date":18,"utc":true},{"year":2012,"month":4,"date":30,"utc":true},{"year":2012,"month":5,"date":12,"utc":true},{"year":2012,"month":5,"date":25,"utc":true},{"year":2012,"month":6,"date":6,"utc":true},{"year":2012,"month":6,"date":18,"utc":true},{"year":2012,"month":6,"date":30,"utc":true},{"year":2012,"month":7,"date":12,"utc":true},{"year":2012,"month":7,"date":24,"utc":true},{"year":2012,"month":8,"date":5,"utc":true},{"year":2012,"month":8,"date":17,"utc":true},{"year":2012,"month":8,"date":29,"utc":true},{"year":2012,"month":9,"date":10,"utc":true},{"year":2012,"month":9,"date":22,"utc":true},{"year":2012,"month":10,"date":4,"utc":true},{"year":2012,"month":10,"date":16,"utc":true},{"year":2012,"month":10,"date":28,"utc":true},{"year":2012,"month":11,"date":9,"utc":true},{"year":2012,"month":11,"date":21,"utc":true},{"year":2012,"month":12,"date":3,"utc":true},{"year":2012,"month":12,"date":15,"utc":true},{"year":2012,"month":12,"date":27,"utc":true}
            ],
            "labelExpr": "utcFormat(datum.value, '%b-%d')",
            "labelFont": "DejaVu Sans", "labelFontSize": 13, "labelColor": "#000000", "labelOverlap": false, "labelFlush": false, "labelPadding": 1,
            "domainColor": "#000000", "domainWidth": 1.5, "tickColor": "#000000", "tickSize": 3, "tickWidth": 1.5,
            "grid": true, "gridColor": "#8c8c8c", "gridDash": [2, 2], "gridWidth": 1,
            "title": "Copyright© 2022 Bloomberg Finance L.P.", "titleX": 2, "titleY": 29, "titleAlign": "left", "titleBaseline": "alphabetic", "titleAngle": 0,
            "titleFont": "DejaVu Sans", "titleFontSize": 11.5, "titleFontWeight": "normal", "titleColor": "#000000",
            "zindex": 1
          }
        },
        "y": {"field": "v", "type": "quantitative",
          "scale": {"domain": [10, 50.46], "nice": false, "zero": false},
          "axis": {
            "orient": "right",
            "values": [12.5, 15, 17.5, 20, 22.5, 25, 27.5, 30, 32.5, 35, 37.5, 40, 42.5, 45, 47.5, 50],
            "labelExpr": "datum.value % 5 === 0 ? datum.label : ''",
            "labelFont": "DejaVu Sans Condensed", "labelFontSize": 13, "labelColor": "#000000", "labelPadding": 4, "labelOverlap": false,
            "domainColor": "#8c8c8c", "domainWidth": 1, "tickColor": "#8c8c8c", "tickSize": 5,
            "tickWidth": {"condition": {"test": "datum.value % 5 === 0", "value": 3}, "value": 1},
            "grid": true, "gridColor": "#8c8c8c", "gridDash": [2, 2], "gridWidth": 1,
            "gridOpacity": {"condition": {"test": "datum.value % 5 !== 0", "value": 0}, "value": 1},
            "title": "07-Apr-2022 12:14:23", "titleAngle": 0, "titleX": 53, "titleY": 821, "titleAlign": "right", "titleBaseline": "alphabetic",
            "titleFont": "DejaVu Sans", "titleFontSize": 11.5, "titleFontWeight": "normal", "titleColor": "#000000",
            "zindex": 1
          }
        },
        "y2": {"datum": 10}
      }
    },
    {
      "data": {"name": "low"},
      "mark": {"type": "area", "color": "#ffffff", "opacity": 1},
      "encoding": {
        "x": {"field": "d", "type": "temporal", "timeUnit": "utcmonthdate"},
        "y": {"field": "v", "type": "quantitative"},
        "y2": {"datum": 10}
      }
    },
    {
      "data": {"name": "high"},
      "mark": {"type": "line", "color": "#111111", "strokeWidth": 1.1},
      "encoding": {
        "x": {"field": "d", "type": "temporal", "timeUnit": "utcmonthdate"},
        "y": {"field": "v", "type": "quantitative"}
      }
    },
    {
      "data": {"name": "avg"},
      "mark": {"type": "line", "color": "#222222", "strokeWidth": 1, "strokeDash": [2, 2]},
      "encoding": {
        "x": {"field": "d", "type": "temporal", "timeUnit": "utcmonthdate"},
        "y": {"field": "v", "type": "quantitative"}
      }
    },
    {
      "data": {"name": "low"},
      "mark": {"type": "line", "color": "#111111", "strokeWidth": 1.1},
      "encoding": {
        "x": {"field": "d", "type": "temporal", "timeUnit": "utcmonthdate"},
        "y": {"field": "v", "type": "quantitative"}
      }
    },
    {
      "data": {"name": "y2022"},
      "mark": {"type": "line", "color": "#f7680f", "strokeWidth": 3},
      "encoding": {
        "x": {"field": "d", "type": "temporal", "timeUnit": "utcmonthdate"},
        "y": {"field": "v", "type": "quantitative"}
      }
    },
    {
      "data": {"name": "tags"},
      "mark": {"type": "point", "shape": "M-1,0L-0.78,-0.36L1,-0.36L1,0.36L-0.78,0.36Z", "size": 3136, "filled": true, "opacity": 1, "strokeWidth": 0},
      "encoding": {
        "x": {"datum": {"year": 2013, "month": 1, "date": 11, "utc": true}, "type": "temporal"},
        "y": {"field": "v", "type": "quantitative"},
        "color": {"condition": {"test": "datum.s === '2022'", "value": "#f7680f"}, "value": "#000000"}
      }
    },
    {
      "data": {"name": "tags"},
      "transform": [{"filter": "datum.s !== '2022'"}],
      "mark": {"type": "text", "align": "left", "baseline": "middle", "dx": -21, "dy": 1, "font": "DejaVu Sans Condensed", "fontSize": 12.5, "color": "#ffffff"},
      "encoding": {
        "x": {"datum": {"year": 2013, "month": 1, "date": 11, "utc": true}, "type": "temporal"},
        "y": {"field": "v", "type": "quantitative"},
        "text": {"field": "t"}
      }
    },
    {
      "data": {"name": "legend"},
      "mark": {"type": "point", "opacity": 0, "filled": true},
      "encoding": {
        "fill": {"field": "k", "type": "nominal",
          "scale": {"domain": ["IVOLSOYO Index (Last Price) High [2017-2021]", "31.689", "Average  [2017-2021]", "22.1359", "Low  [2017-2021]", "14.3333", "2022", "31.8615"],
                    "range": ["#000000", "rgba(0,0,0,0)", "#f2f2f2", "rgba(0,0,0,0)", "#000000", "rgba(0,0,0,0)", "#f7680f", "rgba(0,0,0,0)"]},
          "legend": {
            "title": null, "orient": "none", "legendX": 3, "legendY": -1, "columns": 2, "direction": "horizontal",
            "columnPadding": -8, "rowPadding": 4, "padding": 9,
            "symbolType": "square", "symbolSize": 144, "symbolStrokeWidth": 0,
            "labelFont": "DejaVu Sans", "labelFontSize": 12, "labelColor": "#000000", "labelLimit": 500, "labelOffset": 4,
            "fillColor": "#f2f2f2", "strokeColor": "#404040", "cornerRadius": 3, "zindex": 2,
            "encode": {"symbols": {"update": {
              "opacity": {"value": 1},
              "fillOpacity": {"value": 1},
              "stroke": {"signal": "datum.value === 'Average  [2017-2021]' ? '#000000' : 'rgba(0,0,0,0)'"},
              "strokeWidth": {"value": 1},
              "strokeDash": {"value": [1.5, 1.5]}
            }}}
          }
        }
      }
    }
  ]
}
